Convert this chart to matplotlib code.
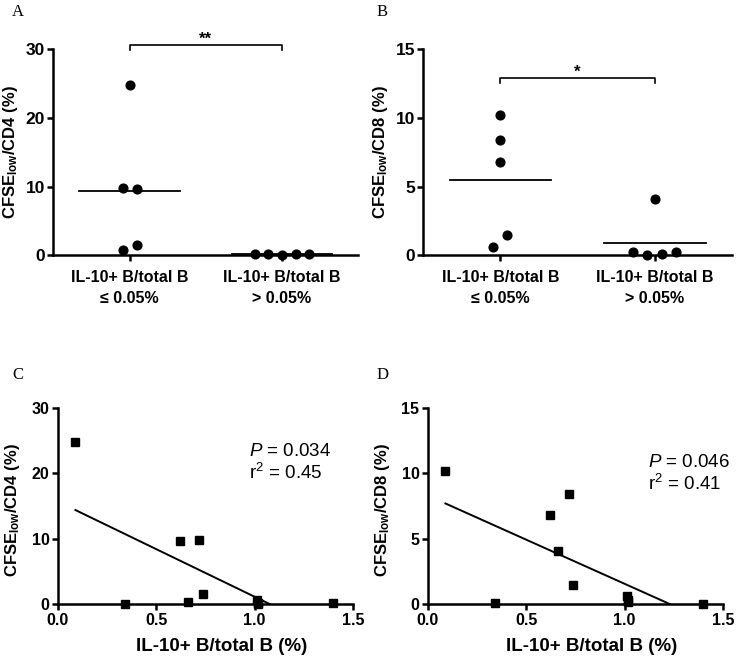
import matplotlib
matplotlib.use("Agg")
import matplotlib.pyplot as plt
import numpy as np

plt.rcParams['font.family'] = ['Liberation Sans', 'DejaVu Sans']
plt.rcParams['mathtext.fontset'] = 'custom'
plt.rcParams['mathtext.rm'] = 'Liberation Sans'
plt.rcParams['mathtext.it'] = 'Liberation Sans:italic'
plt.rcParams['mathtext.bf'] = 'Liberation Sans:bold'

# groups (IL-10+ B/total B)
group_labels = ["IL-10+ B/total B\n≤ 0.05%", "IL-10+ B/total B\n> 0.05%"]

# panel A: CFSE low / CD4 (%)
a_low = [24.8, 9.8, 9.6, 0.7, 1.5]
a_high = [0.2, 0.1, 0.0, 0.1, 0.2]
# panel B: CFSE low / CD8 (%)
b_low = [10.2, 8.4, 6.8, 0.6, 1.5]
b_high = [4.1, 0.2, 0.0, 0.1, 0.2]

# panels C, D: correlation with IL-10+ B/total B (%)
il10_pct = [0.09, 0.34, 0.62, 0.72, 0.66, 0.74, 1.01, 1.02, 1.02, 1.40]
cd4_pct = [24.8, 0.0, 9.6, 9.8, 0.3, 1.5, 0.7, 0.1, 0.2, 0.2]
cd8_pct = [10.2, 0.1, 6.8, 8.4, 4.1, 1.5, 0.6, 0.3, 0.2, 0.0]

# regression lines (slope, intercept) and stats
fit_c = (-14.57, 15.71)
fit_d = (-6.75, 8.31)
stats_c = ("0.034", "0.45")
stats_d = ("0.046", "0.41")

# jitter of dots within each group
jit_a_low = [0.006, -0.04, 0.05, -0.04, 0.05]
jit_a_high = [-0.18, -0.09, 0.0, 0.09, 0.18]
jit_b_low = [0.0, 0.0, 0.0, -0.045, 0.045]
jit_b_high = [0.0, -0.14, -0.05, 0.05, 0.14]

fig = plt.figure(figsize=(7.4, 6.56), dpi=100)

LW = 1.8


def style_axes(ax, size):
    for s in ['top', 'right']:
        ax.spines[s].set_visible(False)
    ax.spines['left'].set_linewidth(LW)
    ax.spines['bottom'].set_linewidth(LW)
    ax.tick_params(width=LW, length=4, labelsize=size, pad=2)
    for lab in ax.get_xticklabels() + ax.get_yticklabels():
        lab.set_fontweight('bold')


def dot_panel(rect, low, high, jl, jh, ymax, yticks, ylab, stars, bracket_y):
    ax = fig.add_axes(rect)
    for i, (vals, jit) in enumerate([(low, jl), (high, jh)]):
        xs = [i + j for j in jit]
        ax.plot(xs, vals, 'o', color='black', ms=6.3, clip_on=False, zorder=3)
        m = np.mean(vals)
        ax.plot([i - 0.33, i + 0.33], [m, m], color='black', lw=1.3)
    ax.set_xlim(-0.5, 1.5)
    ax.set_ylim(0, ymax)
    ax.set_yticks(yticks)
    ax.set_xticks([0, 1])
    ax.set_xticklabels(group_labels, linespacing=1.45)
    ax.spines['left'].set_bounds(0, ymax)
    ax.set_ylabel(ylab, fontsize=12, fontweight='bold', labelpad=4)
    style_axes(ax, 12.5)
    ax.tick_params(axis='x', length=4, pad=7, labelsize=11.5)
    # significance bracket
    tick = ymax * 0.025
    ax.plot([0, 0, 1, 1], [bracket_y - tick, bracket_y, bracket_y, bracket_y - tick],
            color='black', lw=1.2, clip_on=False)
    ax.annotate(stars, (0.5, bracket_y), xytext=(0, -1), textcoords='offset points',
                ha='center', va='bottom', fontsize=12, fontweight='bold',
                annotation_clip=False)
    return ax


def corr_panel(rect, ys, fit, stats, ymax, yticks, ylab, txt_xy):
    ax = fig.add_axes(rect)
    ax.plot(il10_pct, ys, 's', color='black', ms=5.2, clip_on=False, zorder=3)
    xs = np.array([min(il10_pct), max(il10_pct)])
    ax.plot(xs, fit[0] * xs + fit[1], color='black', lw=1.4)
    ax.set_xlim(0, 1.5)
    ax.set_ylim(0, ymax)
    ax.set_xticks([0.0, 0.5, 1.0, 1.5])
    ax.set_xticklabels(['0.0', '0.5', '1.0', '1.5'])
    ax.set_yticks(yticks)
    ax.set_ylabel(ylab, fontsize=12, fontweight='bold')
    ax.yaxis.set_label_coords(-0.122, 0.48)
    ax.set_xlabel("IL-10+ B/total B (%)", fontsize=13.5, fontweight='bold')
    ax.xaxis.set_label_coords(0.556, -0.17)
    style_axes(ax, 11.5)
    ax.text(txt_xy[0], txt_xy[1], "$P$ = " + stats[0] + "\nr$^2$ = " + stats[1],
            fontsize=13.5, ha='left', va='center', linespacing=1.2)
    return ax


dot_panel([0.072, 0.611, 0.412, 0.314], a_low, a_high, jit_a_low, jit_a_high,
          30, [0, 10, 20, 30], r"CFSE$_{\mathbf{low}}$/CD4 (%)", "**", 30.6)
dot_panel([0.572, 0.611, 0.417, 0.314], b_low, b_high, jit_b_low, jit_b_high,
          15, [0, 5, 10, 15], r"CFSE$_{\mathbf{low}}$/CD8 (%)", "*", 12.9)
corr_panel([0.078, 0.079, 0.399, 0.299], cd4_pct, fit_c, stats_c,
           30, [0, 10, 20, 30], r"CFSE$_{\mathbf{low}}$/CD4 (%)", (0.97, 21.6))
corr_panel([0.578, 0.079, 0.399, 0.299], cd8_pct, fit_d, stats_d,
           15, [0, 5, 10, 15], r"CFSE$_{\mathbf{low}}$/CD8 (%)", (1.12, 9.95))

for letter, x, y in [("A", 12, 12), ("B", 377, 12), ("C", 12, 375), ("D", 377, 375)]:
    fig.text(x / 740, 1 - y / 656, letter, fontsize=12, family='Liberation Serif',
             ha='left', va='center')

fig.savefig("out.png", dpi=100)
